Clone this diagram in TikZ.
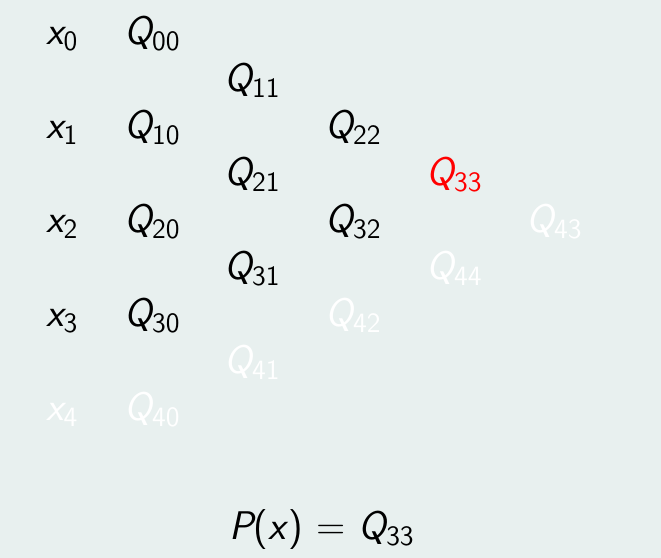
\documentclass[tikz,border=0pt]{standalone}
\usepackage{fontspec}
\definecolor{bgc}{RGB}{232,240,239}
\newcommand\vsub[2]{{\itshape #1}\raisebox{-3pt}{\fontsize{14}{16}\selectfont #2}}
\tikzset{
  lbl/.style={anchor=base west, inner sep=0pt, font=\fontsize{20}{24}\selectfont\sffamily},
  faded/.style={lbl, text=white},
  hl/.style={lbl, text=red}
}
\begin{document}
\begin{tikzpicture}[x=0.5pt,y=-0.5pt]
\fill[bgc] (0,0) rectangle (661,558);
\useasboundingbox (0,0) rectangle (661,558);
% column x
\node[lbl] (x0) at (46,44) {\vsub{x}{0}};
\node[lbl] (x1) at (46,138) {\vsub{x}{1}};
\node[lbl] (x2) at (46,232) {\vsub{x}{2}};
\node[lbl] (x3) at (46,326) {\vsub{x}{3}};
\node[faded] (x4) at (46,420) {\vsub{x}{4}};
% column 0
\node[lbl] (q00) at (124,44) {\vsub{Q}{00}};
\node[lbl] (q10) at (124,138) {\vsub{Q}{10}};
\node[lbl] (q20) at (124,232) {\vsub{Q}{20}};
\node[lbl] (q30) at (124,326) {\vsub{Q}{30}};
\node[faded] (q40) at (124,420) {\vsub{Q}{40}};
% column 1
\node[lbl] (q11) at (224,91) {\vsub{Q}{11}};
\node[lbl] (q21) at (224,185) {\vsub{Q}{21}};
\node[lbl] (q31) at (224,279) {\vsub{Q}{31}};
\node[faded] (q41) at (224,373) {\vsub{Q}{41}};
% column 2
\node[lbl] (q22) at (325,138) {\vsub{Q}{22}};
\node[lbl] (q32) at (325,232) {\vsub{Q}{32}};
\node[faded] (q42) at (325,326) {\vsub{Q}{42}};
% column 3
\node[hl] (q33) at (426,185) {\vsub{Q}{33}};
\node[faded] (q44) at (426,279) {\vsub{Q}{44}};
% column 4
\node[faded] (q43) at (526,232) {\vsub{Q}{43}};
% result
\node[lbl] (px) at (229,539) {{\itshape P}({\itshape x\/})\hspace{0.33em}=\hspace{0.33em}\vsub{Q}{33}};
\end{tikzpicture}
\end{document}
